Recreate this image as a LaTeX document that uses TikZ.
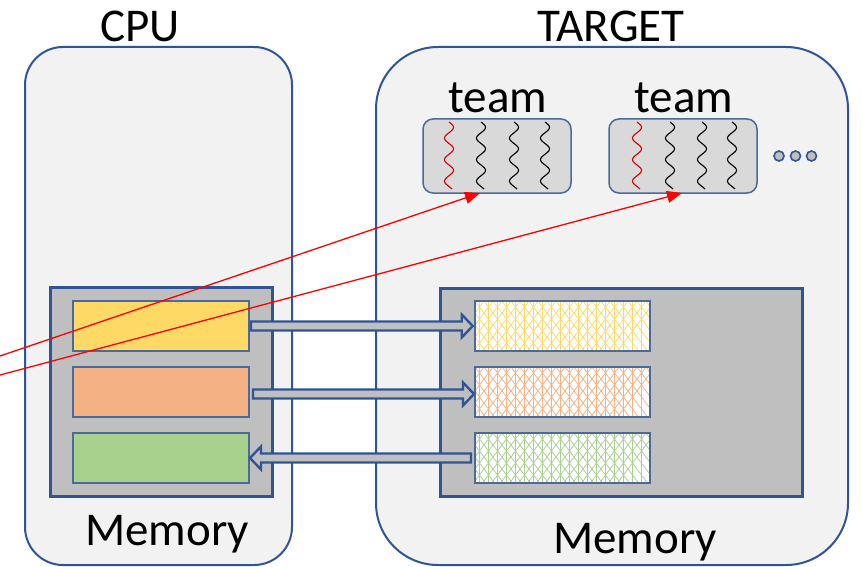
\documentclass[tikz,border=0pt]{standalone}
\usepackage{fontspec}
\setmainfont{Carlito}
\usetikzlibrary{calc,arrows.meta}

\definecolor{edge}{HTML}{2F5597}
\definecolor{thinedge}{HTML}{4A6A9C}
\definecolor{panel}{HTML}{F2F2F2}
\definecolor{memgray}{HTML}{BFBFBF}
\definecolor{teamgray}{HTML}{D9D9D9}
\definecolor{bufyellow}{HTML}{FFD966}
\definecolor{buforange}{HTML}{F4B183}
\definecolor{bufgreen}{HTML}{A9D18E}
\definecolor{threadred}{HTML}{D00000}

% hollow block arrow from #1 to #2 (horizontal)
\newcommand{\hollowarrow}[2]{%
  \path[blockarrow] let \p1=(#1), \p2=(#2), \n1={ifthenelse(\x2>\x1,1,-1)} in
    ({\x1},{\y1+4.5pt}) -- ({\x2-\n1*11pt},{\y1+4.5pt}) -- ({\x2-\n1*11pt},{\y1+11.5pt})
    -- ({\x2},{\y1}) -- ({\x2-\n1*11pt},{\y1-11.5pt}) -- ({\x2-\n1*11pt},{\y1-4.5pt})
    -- ({\x1},{\y1-4.5pt}) -- cycle;}

% cross-hatch filling of a device buffer
\newcommand{\hatchfill}[2]{%
  \begin{scope}
    \clip (#1.south west) rectangle (#1.north east);
    \begin{scope}[shift={(#1.north west)}]
      \foreach \k in {-6,...,20} {
        \draw[#2, line width=0.75pt] ({\k*9},0) -- ++(37.5,50);
        \draw[#2, line width=0.75pt] ({\k*9},0) -- ++(-37.5,50);
        \draw[#2, line width=0.7pt] ({\k*9+4.5},0) -- ++(0,50);
      }
    \end{scope}
  \end{scope}}

% wavy thread
\newcommand{\thread}[2]{%
  \draw[#2, line width=1.1pt] plot[domain=0:67, samples=90, smooth]
    ({#1+4.5*sin(\x/21.5*360)}, {122+\x});}

\tikzset{
  lbl/.style={font=\fontsize{47}{50}\selectfont, inner sep=0pt, anchor=base},
  box/.style={rectangle, inner sep=0pt, outer sep=0pt},
  panelbox/.style={box, draw=edge, line width=2pt, fill=panel},
  membox/.style={box, draw=edge, line width=3pt, fill=memgray},
  buffer/.style={box, draw=thinedge, line width=1.5pt, minimum width=176, minimum height=50},
  teambox/.style={box, draw=thinedge, line width=1.5pt, fill=teamgray, rounded corners=10,
    minimum width=148, minimum height=74},
  dot/.style={circle, draw=edge, line width=1.6pt, fill=memgray, minimum size=10, inner sep=0pt},
  blockarrow/.style={draw=edge, line width=2.4pt, fill=memgray, line join=miter},
  redarrow/.style={draw=red, line width=1.3pt, -{Triangle[length=15pt,width=12pt]}},
}

\begin{document}
\begin{tikzpicture}[x=1pt, y=-1pt]
  \useasboundingbox (0,0) rectangle (862,567);
  \fill[white] (0,0) rectangle (862,567);

  % host and device panels
  \node[panelbox, rounded corners=38, minimum width=267, minimum height=518] (cpu) at (158.5,306) {};
  \node[panelbox, rounded corners=62, minimum width=472, minimum height=518] (target) at (612,306) {};
  \node[lbl] (cpulabel) at (140,42) {CPU};
  \node[lbl] (targetlabel) at (611,42) {TARGET};

  % teams of threads
  \node[teambox] (team1) at (497,156) {};
  \node[teambox] (team2) at (683,156) {};
  \node[lbl] (team1label) at (498,113) {team};
  \node[lbl] (team2label) at (684,113) {team};
  \thread{449}{threadred}
  \thread{481}{black}
  \thread{514}{black}
  \thread{545}{black}
  \thread{637}{threadred}
  \thread{670}{black}
  \thread{702}{black}
  \thread{732}{black}
  \node[dot] (dot1) at (779,156) {};
  \node[dot] (dot2) at (795.5,156) {};
  \node[dot] (dot3) at (811.5,156) {};

  % memories
  \node[membox, minimum width=222, minimum height=209] (cpumem) at (161,391.5) {};
  \node[membox, minimum width=362, minimum height=208] (tgtmem) at (621,392) {};
  \node[lbl] (cpumemlabel) at (167,545) {Memory};
  \node[lbl] (tgtmemlabel) at (635,553) {Memory};

  % host buffers
  \node[buffer, fill=bufyellow] (ybuf) at (161,326) {};
  \node[buffer, fill=buforange] (obuf) at (161,392) {};
  \node[buffer, fill=bufgreen]  (gbuf) at (161,458) {};

  % device buffers
  \node[buffer, fill=white, minimum width=175] (yhatch) at (562.5,326) {};
  \node[buffer, fill=white, minimum width=175] (ohatch) at (562.5,392) {};
  \node[buffer, fill=white, minimum width=175] (ghatch) at (562.5,458) {};
  \hatchfill{yhatch}{bufyellow}
  \hatchfill{ohatch}{buforange}
  \hatchfill{ghatch}{bufgreen}
  \draw[thinedge, line width=1.5pt] (yhatch.south west) rectangle (yhatch.north east);
  \draw[thinedge, line width=1.5pt] (ohatch.south west) rectangle (ohatch.north east);
  \draw[thinedge, line width=1.5pt] (ghatch.south west) rectangle (ghatch.north east);

  % data transfers
  \hollowarrow{$(ybuf.east)+(2,0)$}{$(yhatch.west)+(-2.3,0)$}
  \hollowarrow{$(obuf.east)+(4,2)$}{$(ohatch.west)+(-1,2)$}
  \hollowarrow{$(ghatch.west)+(-4,0)$}{$(gbuf.east)+(1,0)$}

  % launches onto the teams
  \coordinate (src1) at (0,356);
  \coordinate (src2) at (0,375);
  \draw[redarrow] (src1) -- ($(team1.south)+(-17,0)$);
  \draw[redarrow] (src2) -- ($(team2.south)+(-1,0)$);
\end{tikzpicture}
\end{document}
